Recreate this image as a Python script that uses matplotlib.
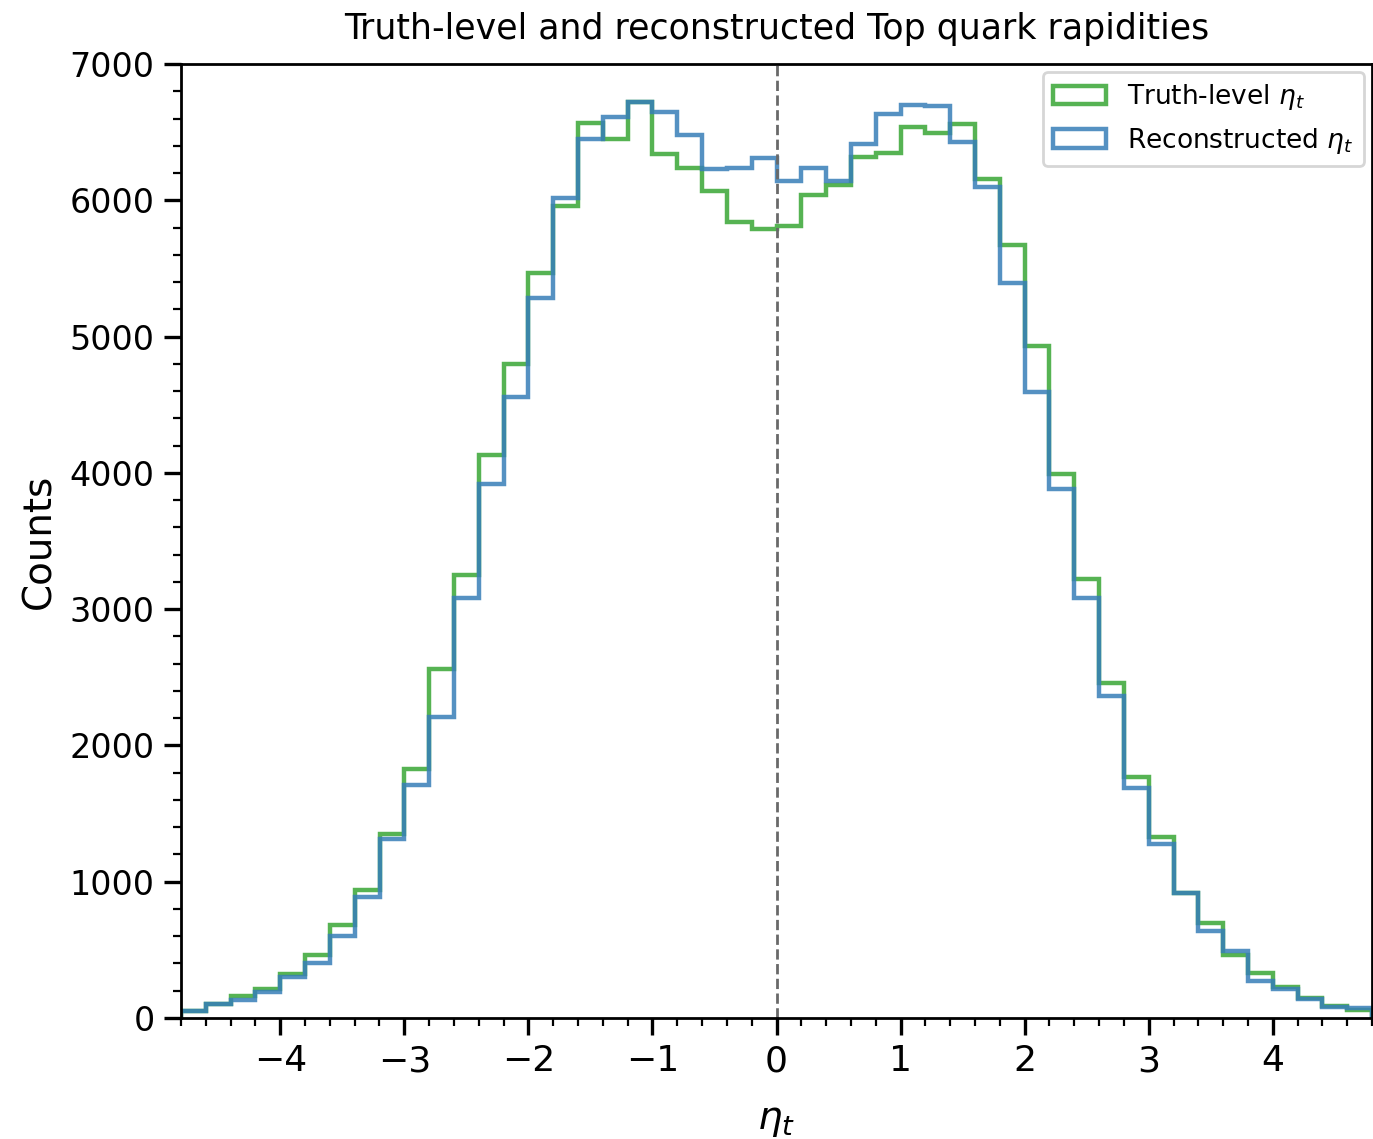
import numpy as np
import matplotlib
matplotlib.use('Agg')
import matplotlib.pyplot as plt
from matplotlib.ticker import MultipleLocator

# Histogram contents, 48 bins of width 0.2 from -4.8 to 4.8
bin_edges = np.round(np.arange(-4.8, 4.8001, 0.2), 2)

truth_counts = [
    50, 100, 160, 210, 320, 460, 680, 940, 1350, 1830, 2560, 3250,
    4130, 4800, 5470, 5960, 6570, 6450, 6720, 6340, 6240, 6070, 5840, 5790,
    5810, 6040, 6110, 6320, 6350, 6535, 6495, 6560, 6155, 5675, 4930, 3990,
    3220, 2460, 1770, 1330, 920, 700, 460, 330, 230, 150, 90, 60,
]
reco_counts = [
    50, 100, 130, 190, 300, 400, 600, 890, 1310, 1710, 2210, 3080,
    3920, 4560, 5280, 6020, 6450, 6610, 6720, 6650, 6480, 6230, 6240, 6310,
    6140, 6235, 6140, 6410, 6635, 6700, 6690, 6425, 6100, 5395, 4590, 3880,
    3080, 2360, 1690, 1280, 920, 640, 490, 270, 210, 140, 80, 75,
]

centers = 0.5 * (bin_edges[:-1] + bin_edges[1:])

fig = plt.figure(figsize=(6.865, 5.695), dpi=200)
ax = fig.add_axes([181 / 1373, 1 - 1018 / 1139, (1372 - 181) / 1373, (1018 - 64) / 1139])

ax.hist(centers, bins=bin_edges, weights=truth_counts, histtype='step',
        color='#4daf4a', alpha=0.95, linewidth=1.6, label=r'Truth-level $\eta_t$')
ax.hist(centers, bins=bin_edges, weights=reco_counts, histtype='step',
        color='#377eb8', alpha=0.85, linewidth=1.6, label=r'Reconstructed $\eta_t$')
ax.axvline(0, color='dimgray', linestyle='--', linewidth=1.0)

ax.set_xlim(-4.8, 4.8)
ax.set_ylim(0, 7000)
ax.xaxis.set_major_locator(MultipleLocator(1))
ax.xaxis.set_minor_locator(MultipleLocator(0.2))
ax.yaxis.set_minor_locator(MultipleLocator(200))
ax.tick_params(which='major', length=6, width=1.2, labelsize=12)
ax.tick_params(axis='x', which='major', labelsize=13)
ax.tick_params(which='minor', length=3, width=0.8)
for sp in ax.spines.values():
    sp.set_linewidth(1.0)

ax.set_xlabel(r'$\eta_t$', fontsize=14, labelpad=8)
ax.set_ylabel('Counts', fontsize=14, labelpad=4)
ax.set_title('Truth-level and reconstructed Top quark rapidities', fontsize=12.5, pad=9)
ax.legend(loc='upper right', fontsize=9.5, framealpha=0.8, borderaxespad=0.3)

fig.savefig('out.png', dpi=200)
